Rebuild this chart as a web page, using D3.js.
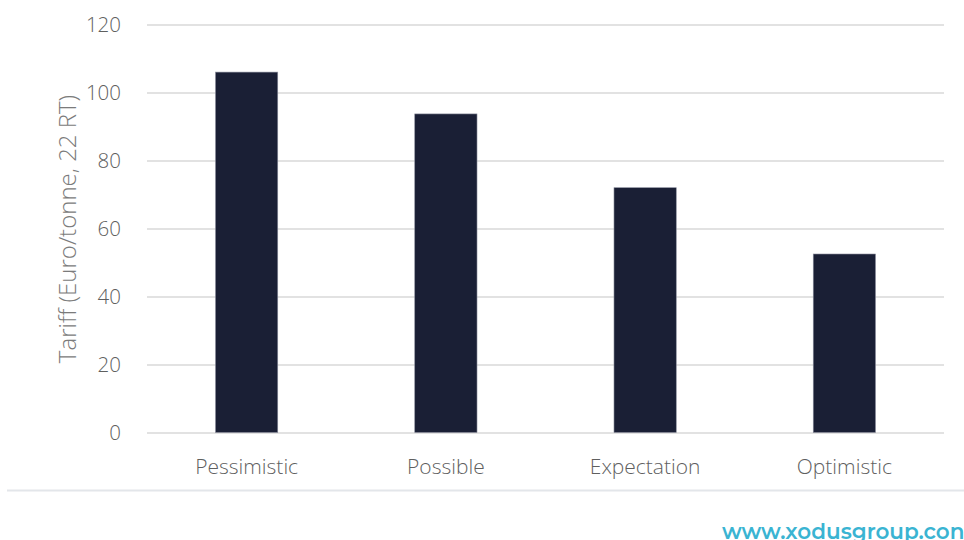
<!DOCTYPE html>
<html>
<head>
<meta charset="utf-8">
<script src="https://cdn.jsdelivr.net/npm/d3@7"></script>
<style>
  html, body { margin: 0; padding: 0; background: #ffffff; }
  svg { display: block; }
  .lbl { font-family: "Segoe UI", "Open Sans", "Noto Sans", sans-serif; font-weight: 300; }
</style>
</head>
<body>
<svg id="chart" width="964" height="540"></svg>
<script>
// Tariff scenarios
const categories = ["Pessimistic", "Possible", "Expectation", "Optimistic"];
const tariffValues = [106, 93.7, 72, 52.5];
const yTicks = [0, 20, 40, 60, 80, 100, 120];
const yTitle = "Tariff (Euro/tonne, 22 RT)";
const footerText = "www.xodusgroup.con";

const svg = d3.select("#chart");
const plotLeft = 147, plotRight = 944;
const plotTop = 24.5, plotBottom = 432.5;

const x = d3.scaleBand().domain(categories).range([plotLeft, plotRight]).padding(0);
const y = d3.scaleLinear().domain([0, 120]).range([plotBottom, plotTop]);
const barW = x.bandwidth() * 0.3125;

// gridlines and value labels
const yAxis = d3.axisLeft(y).tickValues(yTicks).tickSize(-(plotRight - plotLeft)).tickPadding(26);
const gy = svg.append("g").attr("transform", `translate(${plotLeft},0)`).call(yAxis);
gy.select(".domain").remove();
gy.selectAll(".tick line").attr("stroke", "#d9d9d9").attr("stroke-width", 1.6);
gy.selectAll(".tick text")
  .attr("class", "lbl")
  .attr("font-size", 20.5)
  .attr("fill", "#5f5f5f")
  .attr("dy", "0.35em");

// bars
svg.append("g").selectAll("rect")
  .data(tariffValues)
  .join("rect")
  .attr("x", (d, i) => x(categories[i]) + (x.bandwidth() - barW) / 2)
  .attr("y", d => y(d))
  .attr("width", barW)
  .attr("height", d => y(0) - y(d))
  .attr("fill", "#1a1f35")
  .attr("stroke", "#8a8d9c")
  .attr("stroke-width", 0.6);

// category axis
const xAxis = d3.axisBottom(x).tickSize(0).tickPadding(27);
const gx = svg.append("g").attr("transform", `translate(0,${plotBottom})`).call(xAxis);
gx.select(".domain").remove();
gx.selectAll(".tick text")
  .attr("class", "lbl")
  .attr("font-size", 21)
  .attr("fill", "#5f5f5f");

// axis title
svg.append("text")
  .attr("class", "lbl")
  .attr("transform", `translate(76,229) rotate(-90)`)
  .attr("text-anchor", "middle")
  .attr("font-size", 24)
  .attr("fill", "#7b7b7b")
  .text(yTitle);

// separator
svg.append("line")
  .attr("x1", 7).attr("x2", 964)
  .attr("y1", 490.5).attr("y2", 490.5)
  .attr("stroke", "#e3e6ea").attr("stroke-width", 2);

// footer
svg.append("text")
  .attr("x", 722).attr("y", 539)
  .attr("font-family", "Montserrat, 'Open Sans', 'Noto Sans', sans-serif")
  .attr("font-weight", 600)
  .attr("font-size", 21.5)
  .attr("fill", "#3ab4d2")
  .text(footerText);
</script>
</body>
</html>
